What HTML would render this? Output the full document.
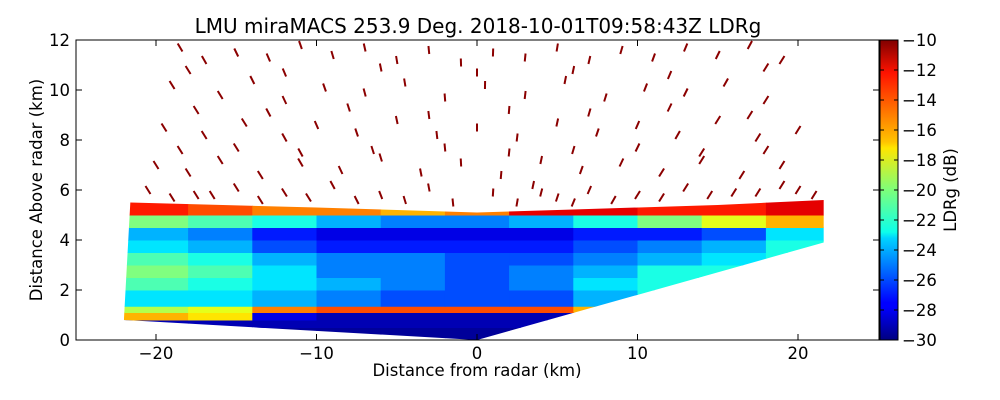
<!DOCTYPE html>
<html><head><meta charset="utf-8"><style>
body{margin:0;background:#fff;}
svg{display:block;font-family:"DejaVu Sans","Liberation Sans",sans-serif;}
</style></head><body>
<svg id="c" width="1000" height="400">
<defs>
<linearGradient id="jet" x1="0" y1="1" x2="0" y2="0">
<stop offset="0" stop-color="#000080"/><stop offset="0.11" stop-color="#0000ff"/>
<stop offset="0.125" stop-color="#0000ff"/><stop offset="0.34" stop-color="#00d4ff"/>
<stop offset="0.36" stop-color="#0dffea"/><stop offset="0.5" stop-color="#7dff7a"/>
<stop offset="0.64" stop-color="#ffe600"/><stop offset="0.66" stop-color="#ffc400"/>
<stop offset="0.89" stop-color="#ff1300"/><stop offset="1" stop-color="#800000"/>
</linearGradient>
<clipPath id="scan"><polygon id="scanpoly"/></clipPath>
</defs>
<text x="478" y="33" font-size="20" text-anchor="middle">LMU miraMACS 253.9 Deg. 2018-10-01T09:58:43Z  LDRg</text>
<g id="plot"></g>
<rect x="76" y="40" width="803" height="300" fill="none" stroke="#000" stroke-width="1"/>
<g id="axes"></g>
<text x="477" y="376" font-size="16.5" text-anchor="middle">Distance from radar (km)</text>
<text transform="translate(42,190) rotate(-90)" font-size="16.5" text-anchor="middle">Distance Above radar  (km)</text>
<rect x="880" y="40" width="18" height="300" fill="url(#jet)" stroke="#000"/>
<g id="cbticks"></g>
<text transform="translate(956,190) rotate(-90)" font-size="16.5" text-anchor="middle">LDRg (dB)</text>
</svg>
<script>
const heightBands=[0,0.5,0.8,1.1,1.35,2,2.5,3,3.5,4,4.5,5,5.7];
const distEdges=[-22,-18,-14,-10,-6,-2,2,6,10,14,18,22];
const ldrRows=[
[-29.5,-29.5,-29.5,-29.5,-29.5,-29.5,-29.5,-29,-27,-27,-27],
[-29,-29,-29,-29,-29,-29,-29,-29,-25,-25,-25],
[-16,-17,-28,-29,-29,-29,-29,-29,-24,-24,-24],
[-19,-18,-15,-14,-14,-14,-14,-16,-24,-24,-24],
[-23,-23,-24,-25,-26,-26,-26,-24,-22,-23,-23],
[-21,-22,-23,-24,-25,-26,-25,-23,-22,-22,-22],
[-20,-21,-23,-25,-25,-26,-25,-24,-22,-22,-22],
[-21,-22,-24,-25,-25,-26,-26,-25,-24,-23,-22],
[-23,-24,-26,-27,-27,-27,-27,-26,-25,-24,-22],
[-24,-25,-27,-28,-28,-28,-28,-27,-27,-26,-23],
[-20,-21,-22,-24,-25,-25,-24,-22,-20,-18,-16],
[-13,-14,-15,-15,-16,-15,-12,-12,-13,-13,-12]];
const scanOutline=[[-22,0.8],[0,0],[21.6,3.9],[21.6,5.6],[15,5.4],[5,5.2],[0,5.1],[-10,5.3],[-21.6,5.5]];
const speckles=[[-18.5,11.7],[-17,11.2],[-15,11.5],[-13,11.3],[-11,11.8],[-9,11.4],[-7,11.7],[-5,11.2],[-3,11.6],[-1,11.1],[1,11.5],[3,11.3],[5,11.7],[7,11.2],[9,11.6],[11,11.3],[13,11.7],[15,11.4],[17,11.8],[19,11.2],
[-18,10.8],[-12,10.7],[-6,10.9],[0,10.7],[6,10.8],[12,10.6],[18,10.9],
[-19,10.2],[-16,9.8],[-14,10.4],[-12,9.6],[-9.5,10.1],[-7,9.9],[-4.5,10.3],[-2,9.7],[0.5,10.2],[3,9.8],[5.5,10.4],[8,9.7],[10.5,10.1],[13,9.9],[15.5,10.3],[18,9.6],
[-17.5,9.2],[-13,9.1],[-8,9.3],[-3,9.0],[2,9.2],[7,9.1],[12,9.3],[17,9.0],
[-19.5,8.5],[-17,8.2],[-14.5,8.7],[-12,8.1],[-10,8.6],[-7.5,8.3],[-5,8.8],[-2.5,8.2],[0,8.5],[2.5,8.1],[5,8.7],[7.5,8.3],[10,8.6],[12.5,8.2],[15,8.8],[17.5,8.1],[20,8.4],
[-18.5,7.6],[-15,7.7],[-11,7.5],[-6.5,7.6],[-2,7.7],[2,7.5],[6,7.6],[10,7.7],[14,7.5],[18,7.6],
[-20,7],[-18,6.7],[-16,7.2],[-13.5,6.6],[-11,7.1],[-8.5,6.8],[-6,7.3],[-3.5,6.7],[-1,7.1],[1.5,6.6],[4,7.2],[6.5,6.8],[9,7.1],[11.5,6.7],[14,7.2],[16.5,6.6],[19,7],
[-20.5,6],[-17.5,5.8],[-15,6.1],[-12,5.9],[-9,6.2],[-6,5.8],[-3,6.1],[1,5.9],[3.5,6.2],[5,5.7],[7,6],[10,5.8],[13,6.1],[16,5.9],[19,6.2],[21,5.8],
[-19,5.7],[-13.5,5.6],[-7.5,5.6],[-1.5,5.5],[2.5,5.5],[4,5.9],[6,5.5],[8.5,5.6],[11.5,5.7],[14.5,5.8],[17.5,5.9],[20,6.0],[-4.5,5.6],[-10.5,5.7],[-16.5,5.8]];
const xTicks=[-20,-10,0,10,20];
const yTicks=[0,2,4,6,8,10,12];
const cbTicks=[-10,-12,-14,-16,-18,-20,-22,-24,-26,-28,-30];
const NS="http://www.w3.org/2000/svg";
const xs=v=>477+v*16.05, ys=v=>340-v*25, cbY=v=>40+(-10-v)*15;
function jet(v){let t=Math.max(0,Math.min(1,(v+30)/20));
const f=x=>Math.max(0,Math.min(1,1.5-Math.abs(4*t-x)));
return `rgb(${Math.round(255*f(3))},${Math.round(255*f(2))},${Math.round(255*f(1))})`;}
function mk(tag,at,parent){const e=document.createElementNS(NS,tag);for(const k in at)e.setAttribute(k,at[k]);parent.appendChild(e);return e;}
document.getElementById('scanpoly').setAttribute('points',scanOutline.map(p=>xs(p[0])+','+ys(p[1])).join(' '));
const plot=document.getElementById('plot');
const cells=mk('g',{'clip-path':'url(#scan)'},plot);


ldrRows.forEach((row,r)=>row.forEach((v,c)=>{
const x0=xs(distEdges[c]),x1=xs(distEdges[c+1]),y0=ys(heightBands[r+1]),y1=ys(heightBands[r]);
const cell=mk('rect',{x:x0,y:y0,width:x1-x0+0.5,height:y1-y0+0.5,fill:jet(v)},cells);


}));
speckles.forEach(p=>{
const x=xs(p[0]),y=ys(p[1]);const dx=Math.max(-2.5,Math.min(2.5,p[0]/p[1]*1.5));
const s=mk('line',{x1:x-dx,y1:y+4,x2:x+dx,y2:y-4,stroke:'#8b0000','stroke-width':2},plot);


});
const ax=document.getElementById('axes');
xTicks.forEach(t=>{const x=xs(t);
mk('line',{x1:x,y1:340,x2:x,y2:334,stroke:'#000'},ax);mk('line',{x1:x,y1:40,x2:x,y2:46,stroke:'#000'},ax);
const l=mk('text',{x:x,y:359,'font-size':16.5,'text-anchor':'middle'},ax);l.textContent=(t<0?'\u2212'+(-t):t);

});
yTicks.forEach(t=>{const y=ys(t);
mk('line',{x1:76,y1:y,x2:82,y2:y,stroke:'#000'},ax);mk('line',{x1:879,y1:y,x2:873,y2:y,stroke:'#000'},ax);
const l=mk('text',{x:70,y:y+6,'font-size':16.5,'text-anchor':'end'},ax);l.textContent=t;

});
const cb=document.getElementById('cbticks');
cbTicks.forEach(t=>{const y=cbY(t);
mk('line',{x1:880,y1:y,x2:884,y2:y,stroke:'#000'},cb);mk('line',{x1:898,y1:y,x2:894,y2:y,stroke:'#000'},cb);
const l=mk('text',{x:902,y:y+6,'font-size':16.5},cb);l.textContent='\u2212'+(-t);

});
</script>
</body></html>
